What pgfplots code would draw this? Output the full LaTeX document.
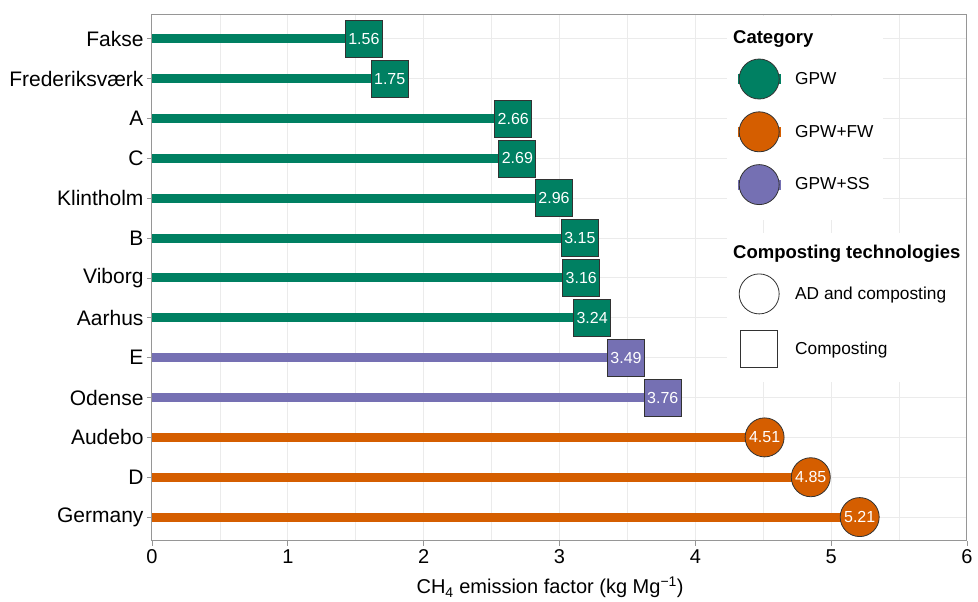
\documentclass[border=0pt]{standalone}
\usepackage{fontspec}
\setmainfont{Liberation Sans}
\usepackage{pgfplots}
\pgfplotsset{compat=1.18}
\definecolor{gpw}{RGB}{0,128,98}
\definecolor{fw}{RGB}{213,94,0}
\definecolor{ss}{RGB}{117,112,179}
\definecolor{gridc}{RGB}{235,235,235}
\definecolor{axc}{RGB}{150,150,150}
\definecolor{mkline}{RGB}{50,50,50}
\pgfplotsset{/pgf/number format/assume math mode=true}
\begin{document}
\begin{tikzpicture}
\useasboundingbox (-152pt,-61pt) rectangle (826pt,541pt);
\begin{axis}[
  at={(0pt,0pt)}, anchor=south west,
  scale only axis, width=815pt, height=526pt,
  xmin=0, xmax=6, ymin=0.4, ymax=13.6,
  xtick={0,1,2,3,4,5,6},
  minor xtick={0.5,1.5,2.5,3.5,4.5,5.5},
  ytick={1,2,3,4,5,6,7,8,9,10,11,12,13},
  yticklabels={Germany,D,Audebo,Odense,E,Aarhus,Viborg,B,Klintholm,C,A,Frederiksværk,Fakse},
  grid=both,
  major grid style={gridc, line width=1pt},
  minor grid style={gridc, line width=0.6pt},
  major tick length=5pt, minor tick length=0pt,
  tick align=outside,
  tick style={axc, line width=0.9pt},
  xtick pos=lower, ytick pos=left,
  axis line style={axc, line width=1pt},
  xticklabel style={font=\fontsize{20}{24}\selectfont, text=black},
  yticklabel style={font=\fontsize{21}{25}\selectfont, text=black},
  xlabel={CH\textsubscript{4} emission factor (kg Mg\textsuperscript{−1})},
  xlabel style={font=\fontsize{20}{24}\selectfont, at={(axis description cs:0.4885,0)}, anchor=base, yshift=-53pt},
  legend style={at={(axis cs:4.233,13.6)}, anchor=north west, draw=none, fill=none,
    font=\fontsize{17.3}{20}\selectfont, row sep=12pt, inner xsep=11pt, inner ysep=13pt,
    /tikz/every odd column/.append style={column sep=13pt}},
  legend cell align=left,
  every node near coord/.append style={anchor=center, text=white, font=\fontsize{16}{19}\selectfont},
]
% legend backgrounds
\fill[white] (axis cs:4.233,13.575) rectangle (axis cs:5.382,8.456);
\fill[white] (axis cs:4.233,8.13) rectangle (axis cs:5.992,4.39);
% segments
\addplot[forget plot, xcomb, gpw, line width=9pt] coordinates {
  (1.56,13) (1.75,12) (2.66,11) (2.69,10) (2.96,9) (3.15,8) (3.16,7) (3.24,6)};
\addplot[forget plot, xcomb, ss, line width=9pt] coordinates {(3.49,5) (3.76,4)};
\addplot[forget plot, xcomb, fw, line width=9pt] coordinates {(4.51,3) (4.85,2) (5.21,1)};
% markers with labels
\addplot[forget plot, only marks, mark=square*, mark size=18.5pt,
  mark options={fill=gpw, draw=mkline, line width=0.8pt},
  point meta=x, nodes near coords={\pgfmathprintnumber[fixed,zerofill,precision=2]{\pgfplotspointmeta}}]
  coordinates {(1.56,13) (1.75,12) (2.66,11) (2.69,10) (2.96,9) (3.15,8) (3.16,7) (3.24,6)};
\addplot[forget plot, only marks, mark=square*, mark size=18.5pt,
  mark options={fill=ss, draw=mkline, line width=0.8pt},
  point meta=x, nodes near coords={\pgfmathprintnumber[fixed,zerofill,precision=2]{\pgfplotspointmeta}}]
  coordinates {(3.49,5) (3.76,4)};
\addplot[forget plot, only marks, mark=*, mark size=19.5pt,
  mark options={fill=fw, draw=mkline, line width=0.8pt},
  point meta=x, nodes near coords={\pgfmathprintnumber[fixed,zerofill,precision=2]{\pgfplotspointmeta}}]
  coordinates {(4.51,3) (4.85,2) (5.21,1)};
% legend
\addlegendimage{empty legend}
\addlegendentry{\makebox[0pt][l]{\hspace*{-62pt}\fontsize{18.5}{21}\selectfont\bfseries Category}}
\addlegendimage{legend image code/.code={\fill[gpw] (-20.8pt,-4.5pt) rectangle (20.8pt,4.5pt); \filldraw[fill=gpw, draw=mkline, line width=0.8pt] (0pt,0pt) circle[radius=20pt];}}
\addlegendentry{GPW}
\addlegendimage{legend image code/.code={\fill[fw] (-20.8pt,-4.5pt) rectangle (20.8pt,4.5pt); \filldraw[fill=fw, draw=mkline, line width=0.8pt] (0pt,0pt) circle[radius=20pt];}}
\addlegendentry{GPW+FW}
\addlegendimage{legend image code/.code={\fill[ss] (-20.8pt,-4.5pt) rectangle (20.8pt,4.5pt); \filldraw[fill=ss, draw=mkline, line width=0.8pt] (0pt,0pt) circle[radius=20pt];}}
\addlegendentry{GPW+SS}
\addlegendimage{empty legend}
\addlegendentry{\makebox[0pt][l]{\hspace*{-62pt}\fontsize{18.5}{21}\selectfont\bfseries\rule{0pt}{39pt}Composting technologies}}
\addlegendimage{legend image code/.code={\filldraw[fill=white, draw=mkline, line width=0.8pt] (0pt,0pt) circle[radius=20pt];}}
\addlegendentry{AD and composting}
\addlegendimage{legend image code/.code={\path (0pt,22pt) (0pt,-20pt); \filldraw[fill=white, draw=mkline, line width=0.8pt] (-18.5pt,-18.5pt) rectangle (18.5pt,18.5pt);}}
\addlegendentry{Composting}
\end{axis}
\end{tikzpicture}
\end{document}
